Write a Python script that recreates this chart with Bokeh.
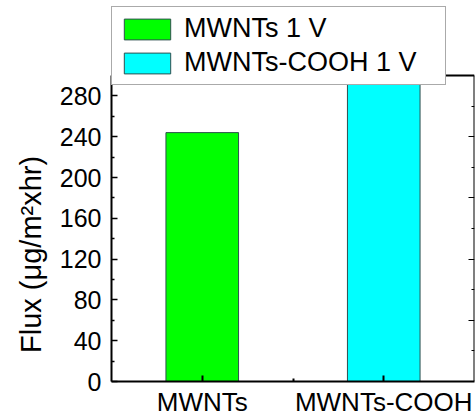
from bokeh.plotting import figure
from bokeh.models import (FixedTicker, LinearAxis, Legend, LegendItem, Range1d,
                          ColumnDataSource)
from bokeh.embed import file_html
from bokeh.resources import INLINE

categories = ["MWNTs", "MWNTs-COOH"]
positions = [1, 2]
flux = [244, 292]
series_names = ["MWNTs 1 V", "MWNTs-COOH 1 V"]
colors = ["#00ff00", "#00ffff"]
y_ticks = [0, 40, 80, 120, 160, 200, 240, 280]
y_minor = [20, 60, 100, 140, 180, 220, 260]
y_top = 300
x_lo, x_hi = 0.5, 2.5

FONT = "Liberation Sans"
FRAME_H = 375          # frame includes the legend strip above the axes box
AXES_H = 306           # pixel height of the 0..300 axes box
y_view_max = y_top * FRAME_H / AXES_H

p = figure(frame_width=363, frame_height=FRAME_H, output_backend="svg",
           toolbar_location=None,
           x_range=Range1d(x_lo, x_hi), y_range=Range1d(0, y_view_max),
           min_border_left=111, min_border_top=6, min_border_right=1,
           min_border_bottom=10)
p.background_fill_color = "white"
p.border_fill_color = "white"
p.xgrid.visible = False
p.ygrid.visible = False
p.outline_line_color = None

renderers = []
for i in range(2):
    src = ColumnDataSource(dict(x=[positions[i]], top=[flux[i]]))
    r = p.vbar(x="x", top="top", width=0.4, bottom=0, source=src,
               fill_color=colors[i], line_color="#2f4f4f", line_width=1)
    renderers.append(r)

# bottom axis
xa = p.xaxis[0]
xa.ticker = FixedTicker(ticks=positions, minor_ticks=[1.5])
xa.major_label_overrides = {1: categories[0], 2: categories[1]}
xa.major_label_text_font = FONT
xa.major_label_text_font_size = "26px"
xa.major_label_text_color = "black"
xa.major_tick_in = 6
xa.major_tick_out = 0
xa.minor_tick_in = 3
xa.minor_tick_out = 0
xa.axis_line_width = 2
xa.major_tick_line_width = 2
xa.minor_tick_line_width = 2
xa.major_label_standoff = 5

# left axis
ya = p.yaxis[0]
ya.bounds = (0, y_top)
ya.ticker = FixedTicker(ticks=y_ticks, minor_ticks=y_minor)
ya.major_label_text_font = FONT
ya.major_label_text_font_size = "25px"
ya.major_label_text_color = "black"
ya.major_tick_in = 6
ya.major_tick_out = 0
ya.minor_tick_in = 3
ya.minor_tick_out = 0
ya.axis_line_width = 2
ya.major_tick_line_width = 1.5
ya.minor_tick_line_width = 1.5
ya.major_label_standoff = 10
# non-breaking spaces shift the centred title down to match the reference
ya.axis_label = "Flux (\u03bcg/m\u00b2xhr)" + "\u00a0" * 15
ya.axis_label_text_font = FONT
ya.axis_label_text_font_size = "29px"
ya.axis_label_text_font_style = "normal"
ya.axis_label_text_color = "black"
ya.axis_label_standoff = 10

# right mirror axis (fixed at the box edge, takes no panel space)
ra = LinearAxis(ticker=FixedTicker(ticks=[60, 120, 180, 240],
                                   minor_ticks=[30, 90, 150, 210, 270]),
                fixed_location=x_hi, bounds=(0, y_top))
ra.major_label_text_color = None
ra.major_label_text_font_size = "1px"
ra.major_tick_in = 6
ra.major_tick_out = 0
ra.minor_tick_in = 3
ra.minor_tick_out = 0
ra.axis_line_width = 2
ra.major_label_standoff = 0
p.add_layout(ra, "right")

# top mirror axis
ta = LinearAxis(ticker=FixedTicker(ticks=[0.9, 1.3, 1.7, 2.1],
                                   minor_ticks=[0.7, 1.1, 1.5, 1.9, 2.3]),
                fixed_location=y_top)
ta.major_label_text_color = None
ta.major_label_text_font_size = "1px"
ta.major_tick_in = 5
ta.major_tick_out = 0
ta.minor_tick_in = 4
ta.minor_tick_out = 0
ta.axis_line_width = 2
ta.major_label_standoff = 0
p.add_layout(ta, "above")

legend_labels = [series_names[0], series_names[1] + "\u00a0" * 3]
legend = Legend(items=[LegendItem(label=legend_labels[i], renderers=[renderers[i]])
                       for i in range(2)],
                location="top_left",
                label_text_font=FONT, label_text_font_size="27px",
                label_text_color="black",
                glyph_width=58, glyph_height=26, label_height=26,
                label_standoff=8, spacing=3, padding=6, margin=0,
                border_line_color="#555555", border_line_width=1,
                background_fill_alpha=1.0)
p.add_layout(legend, "center")

open("out.html", "w").write(file_html(p, INLINE))
